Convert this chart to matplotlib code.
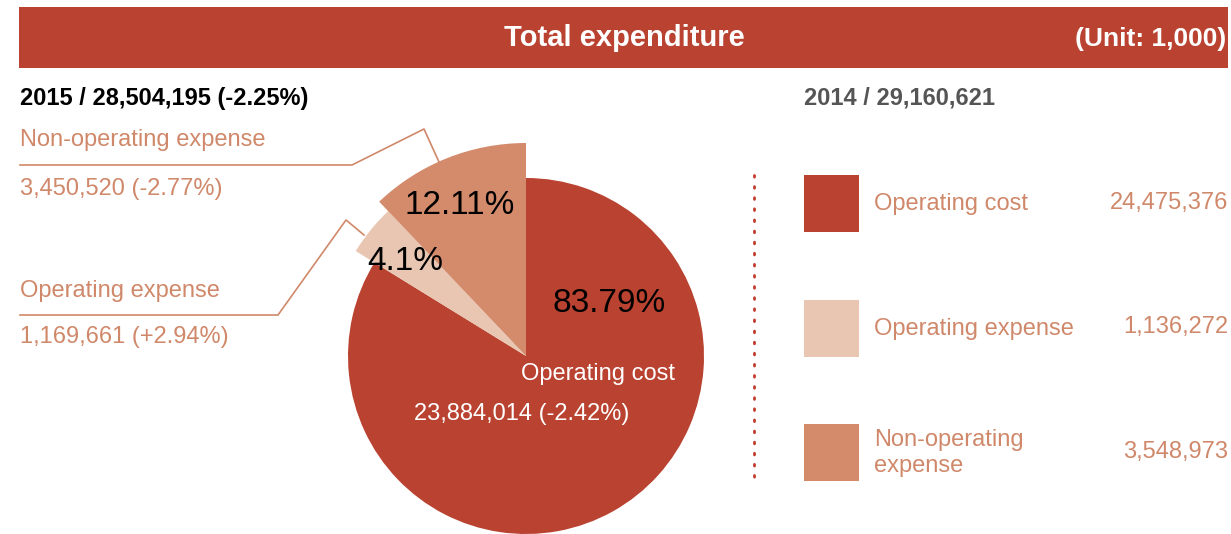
import matplotlib
matplotlib.use("Agg")
import matplotlib.pyplot as plt
from matplotlib.patches import Rectangle

# ---- data ----
categories = ["Operating cost", "Operating expense", "Non-operating expense"]
values_2015 = [23884014, 1169661, 3450520]
changes_2015 = ["-2.42%", "+2.94%", "-2.77%"]
values_2014 = [24475376, 1136272, 3548973]
pct_labels = ["83.79%", "4.1%", "12.11%"]
total_2015 = "28,504,195"
total_change = "-2.25%"
total_2014 = "29,160,621"
title = "Total expenditure"
unit = "(Unit: 1,000)"

colors = ["#B94230", "#E8C6B2", "#D38B6C"]
salmon = "#D0886A"
FONT = "Liberation Sans"
W, H = 1231, 534

fig = plt.figure(figsize=(W / 100, H / 100), dpi=100)
ax = fig.add_axes([0, 0, 1, 1])


def Y(y):
    return H - y


# pie
cx, cy = 526, 356
wedges, _ = ax.pie(values_2015, colors=colors, startangle=90, counterclock=False,
                   center=(cx, Y(cy)), radius=178, wedgeprops=dict(linewidth=0))
for w, r in zip(wedges, [178, 200, 213]):
    w.set_radius(r)

ax.set_xlim(0, W)
ax.set_ylim(0, H)
ax.set_aspect("equal")
ax.axis("off")

# header bar
ax.add_patch(Rectangle((19, Y(68)), 1209, 61, color="#B94230", lw=0))
ax.text(624, Y(38), title, ha="center", va="center", color="white",
        fontsize=21, fontweight="bold", family=FONT)
ax.text(1226, Y(39), unit, ha="right", va="center", color="white",
        fontsize=19, fontweight="bold", family=FONT)

ax.text(20, Y(98), f"2015 / {total_2015} ({total_change})", ha="left", va="center",
        color="black", fontsize=17, fontweight="bold", family=FONT)
ax.text(804, Y(98), f"2014 / {total_2014}", ha="left", va="center",
        color="#555555", fontsize=17, fontweight="bold", family=FONT)

# pie labels
ax.text(609, Y(303), pct_labels[0], ha="center", va="center", fontsize=24, family=FONT, color="black")
ax.text(405, Y(262), pct_labels[1], ha="center", va="center", fontsize=24, family=FONT, color="black")
ax.text(460, Y(206), pct_labels[2], ha="center", va="center", fontsize=24, family=FONT, color="black")
ax.text(598, Y(374), categories[0], ha="center", va="center", fontsize=17, family=FONT, color="white")
ax.text(522, Y(414), f"{values_2015[0]:,} ({changes_2015[0]})", ha="center", va="center",
        fontsize=17, family=FONT, color="white")

# left callouts
ax.text(20, Y(140), categories[2], ha="left", va="center", fontsize=17, family=FONT, color=salmon)
ax.text(20, Y(189), f"{values_2015[2]:,} ({changes_2015[2]})", ha="left", va="center",
        fontsize=17, family=FONT, color=salmon)
ax.plot([20, 352, 424, 439], [Y(165), Y(165), Y(129), Y(162)], color=salmon, lw=1.2)

ax.text(20, Y(291), categories[1], ha="left", va="center", fontsize=17, family=FONT, color=salmon)
ax.text(20, Y(337), f"{values_2015[1]:,} ({changes_2015[1]})", ha="left", va="center",
        fontsize=17, family=FONT, color=salmon)
ax.plot([20, 278, 346, 364], [Y(315), Y(315), Y(220), Y(235)], color=salmon, lw=1.2)

# dotted separator
ax.plot([754, 754], [Y(175), Y(482)], color="#C0392B", lw=2, linestyle=(0, (0.6, 3.4)),
        dash_capstyle="round")

# legend (2014)
leg_labels = ["Operating cost", "Operating expense", "Non-operating\nexpense"]
for i, (lab, v, c) in enumerate(zip(leg_labels, values_2014, colors)):
    top = 175 + i * 124.5
    ax.add_patch(Rectangle((804, Y(top + 57)), 55, 57, color=c, lw=0))
    ax.text(874, Y(top + 29), lab, ha="left", va="center", fontsize=17, family=FONT,
            color=salmon, linespacing=1.25)
    ax.text(1228, Y(top + 28), f"{v:,}", ha="right", va="center", fontsize=17,
            family=FONT, color=salmon)

fig.savefig("out.png", dpi=100)
